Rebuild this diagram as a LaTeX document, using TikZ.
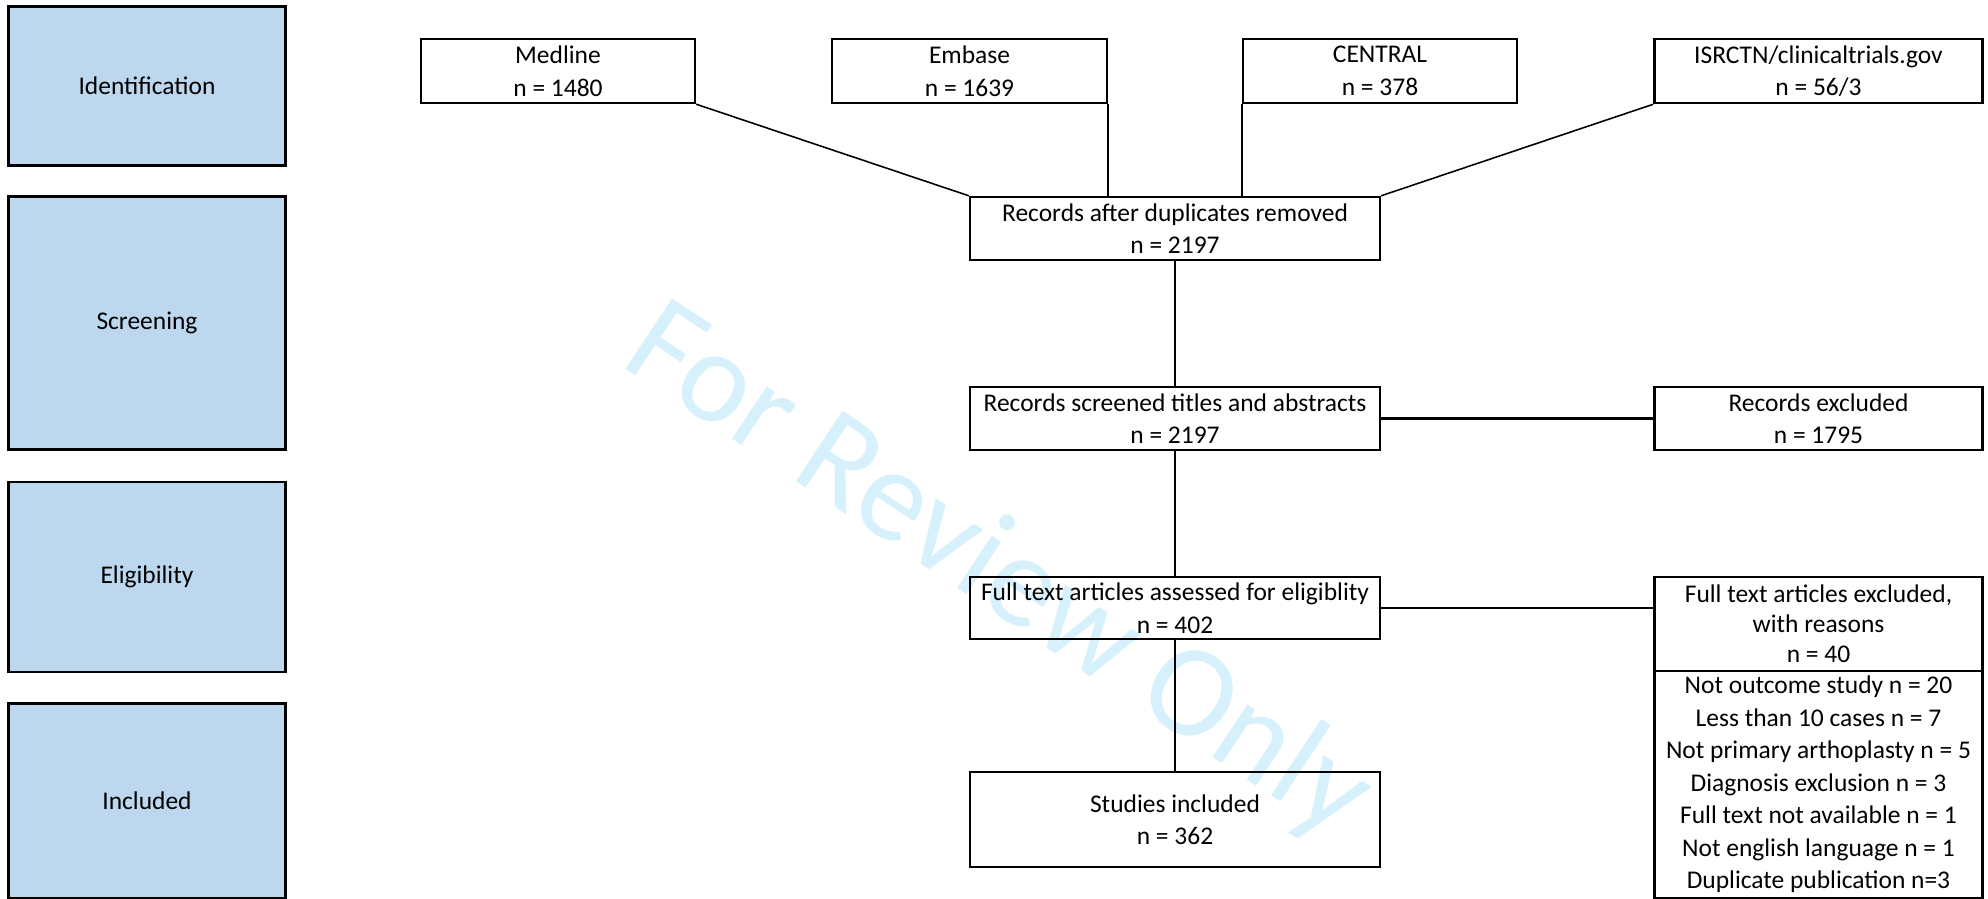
\documentclass[tikz,border=0pt]{standalone}
\usepackage{fontspec}
\setmainfont{Carlito}
\usepackage{tikz}
\usetikzlibrary{calc}
\definecolor{stageblue}{RGB}{189,215,238}
\definecolor{stampcyan}{RGB}{214,240,252}
\tikzset{
	box/.style={draw, line width=1.4pt, inner sep=0pt, align=center, font=\fontsize{14.5}{18.5}\selectfont},
	stagebox/.style={box, fill=stageblue},
	link/.style={line width=0.9pt},
	sidelink/.style={line width=1.3pt}
}

\begin{document}
\begin{tikzpicture}[x=0.02cm, y=-0.02cm]
			%%%%% START %%%%%
			\useasboundingbox (0, 0) rectangle (1988, 899);
			
			\node[rotate=-33.5, anchor=base west, inner sep=0pt, text=stampcyan, font=\fontsize{75}{75}\selectfont] (stamp) at (618, 364) {For Review Only};
			
			% stages
			\node[stagebox, minimum width=5.54cm, minimum height=3.18cm] (ident) at (147, 86) {Identification};
			\node[stagebox, minimum width=5.54cm, minimum height=5.06cm] (screen) at (147, 323) {Screening};
			\node[stagebox, minimum width=5.54cm, minimum height=3.80cm] (elig) at (147, 577) {Eligibility};
			\node[stagebox, minimum width=5.54cm, minimum height=3.90cm] (incl) at (147, 801) {Included};
			
			% sources
			\node[box, minimum width=5.48cm, minimum height=1.28cm] (medline) at (558, 71) {Medline\\n = 1480};
			\node[box, minimum width=5.50cm, minimum height=1.28cm] (embase) at (969.5, 71) {Embase\\n = 1639};
			\node[box, minimum width=5.48cm, minimum height=1.28cm] (central) at (1380, 71) {CENTRAL\\n = 378};
			\node[box, minimum width=6.56cm, minimum height=1.28cm] (isrctn) at (1818.5, 71) {ISRCTN/clinicaltrials.gov\\n = 56/3};
			
			% main flow
			\node[box, minimum width=8.20cm, minimum height=1.26cm] (dup) at (1175, 228.5) {Records after duplicates removed\\n = 2197};
			\node[box, minimum width=8.20cm, minimum height=1.26cm] (screened) at (1175, 418.5) {Records screened titles and abstracts\\n = 2197};
			\node[box, minimum width=8.20cm, minimum height=1.24cm] (fulltext) at (1175, 608) {Full text articles assessed for eligiblity\\n = 402};
			\node[box, minimum width=8.20cm, minimum height=1.90cm] (studies) at (1175, 819.5) {Studies included\\n = 362};
			
			% exclusions
			\node[box, minimum width=6.56cm, minimum height=1.26cm] (recexcl) at (1818.5, 418.5) {Records excluded\\n = 1795};
			\node[box, minimum width=6.56cm, minimum height=1.88cm, font=\fontsize{14.5}{17.2}\selectfont] (ftexcl) at (1818.5, 624) {Full text articles excluded,\\with reasons\\n = 40};
			\node[box, minimum width=6.56cm, minimum height=4.54cm] (reasons) at (1818.5, 784.5) {Not outcome study n = 20\\Less than 10 cases n = 7\\Not primary arthoplasty n = 5\\Diagnosis exclusion n = 3\\Full text not available n = 1\\Not english language n = 1\\Duplicate publication n=3};
			
			% connectors
			\draw[link] (medline.south east) -- (dup.north west);
			\draw[link] (embase.south east) -- (embase.south east |- dup.north);
			\draw[link] (central.south west) -- (central.south west |- dup.north);
			\draw[link] (isrctn.south west) -- (dup.north east);
			\draw[link] (dup.south) -- (screened.north);
			\draw[sidelink] (screened.east) -- (recexcl.west);
			\draw[link] (screened.south) -- (fulltext.north);
			\draw[sidelink] (fulltext.east) -- (fulltext.east -| ftexcl.west);
			\draw[link] (fulltext.south) -- (studies.north);
			
			%%%%% END %%%%%
\end{tikzpicture}
\end{document}
